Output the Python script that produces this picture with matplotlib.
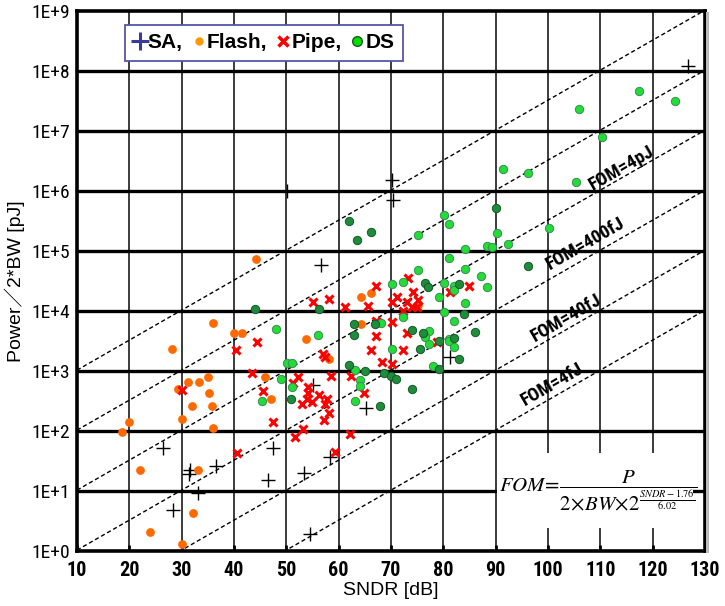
import numpy as np
import matplotlib.pyplot as plt
from matplotlib import font_manager
from matplotlib.lines import Line2D
from matplotlib.patches import Rectangle
from matplotlib.ticker import FixedLocator, FuncFormatter, NullLocator

plt.rcParams['mathtext.fontset'] = 'stix'

# ---- data (SNDR [dB], Power/2BW [pJ]) ----
sa_pts = [(126.7, 1.2e8), (70.2, 1.5e6), (70.3, 7e5), (50.2, 1e6), (56.6, 5.9e4),
          (81.3, 1.7e3), (55.1, 590), (65.2, 240), (58.3, 37), (47.4, 52),
          (53.4, 20), (54.5, 1.9), (26.4, 52), (31.6, 22), (31.4, 19),
          (36.6, 26), (33.1, 9.3), (28.3, 4.8), (46.5, 15)]

flash_pts = [(44.2, 7.4e4), (36.0, 6.3e3), (40.0, 4.3e3), (41.5, 4.3e3), (28.1, 2.3e3),
             (31.2, 660), (29.3, 500), (33.3, 660), (35.0, 790), (35.2, 430),
             (32.0, 260), (35.8, 260), (30.1, 160), (19.9, 140), (18.6, 96),
             (36.0, 112), (45.9, 790), (47.0, 340), (22.0, 22), (33.1, 22),
             (32.2, 4.3), (23.9, 2.1), (30.1, 1.3), (53.7, 3.4e3), (58.1, 1.6e3),
             (64.3, 1.7e4), (66.2, 2e4), (64.3, 6e3), (75.1, 1.26e4)]

pipe_pts = [(44.4, 3e3), (40.4, 2.2e3), (43.4, 930), (45.5, 460), (30.1, 480),
            (47.4, 140), (40.6, 43), (73.2, 3.5e4), (67.1, 2.6e4), (74.2, 2.1e4),
            (71.1, 1.7e4), (75.1, 1.5e4), (70.2, 1.4e4), (73.0, 1.4e4), (74.0, 1.17e4),
            (75.0, 1.17e4), (72.3, 1.0e4), (65.6, 1.2e4), (61.2, 1.17e4), (58.1, 1.6e4),
            (55.1, 1.4e4), (81.3, 2.1e4), (84.9, 2.6e4), (70.2, 6.6e3), (67.1, 6.8e3),
            (67.1, 3.8e3), (73.0, 4.3e3), (78.8, 3e3), (66.2, 2.2e3), (72.3, 2.2e3),
            (68.3, 1.4e3), (70.2, 1.3e3), (57.0, 1.9e3), (57.4, 1.7e3), (52.2, 790),
            (51.3, 630), (58.5, 830), (62.3, 830), (64.8, 430), (54.1, 540),
            (54.1, 430), (53.9, 340), (53.0, 280), (54.9, 300), (56.2, 400),
            (57.8, 340), (57.4, 280), (58.1, 200), (57.2, 150), (53.2, 108),
            (51.6, 80), (62.1, 90), (59.3, 45)]

ds_light_pts = [(117.4, 4.6e7), (124.2, 3.2e7), (105.9, 2.3e7), (110.3, 7.9e6), (91.4, 2.3e6),
                (96.2, 2e6), (105.3, 1.4e6), (80.1, 4e5), (81.1, 2.8e5), (90.2, 2e5),
                (100.2, 2.4e5), (75.1, 1.85e5), (84.1, 1.07e5), (88.3, 1.2e5), (89.3, 1.17e5),
                (92.3, 1.3e5), (81.1, 7.6e4), (75.1, 4.8e4), (84.1, 5e4), (87.2, 3.8e4),
                (88.3, 2.5e4), (72.3, 3e4), (70.2, 2.8e4), (80.1, 2.9e4), (82.0, 2.6e4),
                (82.0, 2.2e4), (79.2, 1.7e4), (84.1, 1.35e4), (80.1, 9.6e3), (72.3, 7.9e3),
                (82.0, 6.8e3), (68.1, 6.3e3), (77.2, 4.6e3), (76.5, 3.7e3), (77.2, 2.8e3),
                (81.1, 3.4e3), (81.1, 3.2e3), (82.0, 2.5e3), (70.2, 2.3e3), (78.0, 1.2e3),
                (48.0, 5e3), (56.0, 4e3), (50.1, 1.35e3), (51.1, 1.35e3), (49.0, 740),
                (51.1, 540), (45.3, 316), (63.1, 1.05e3), (64.1, 710), (64.1, 560),
                (63.1, 316)]

ds_dark_pts = [(90.0, 5.2e5), (96.2, 5.6e4), (76.5, 2.9e4), (77.0, 2.5e4), (83.0, 2.8e4),
               (83.9, 8.9e3), (74.0, 4.8e3), (76.1, 4.3e3), (75.5, 2.3e3), (79.2, 3.2e3),
               (82.0, 3.5e3), (86.0, 4.5e3), (83.0, 1.6e3), (79.2, 1.1e3), (74.0, 500),
               (62.0, 3.2e5), (66.2, 2.1e5), (63.5, 1.5e5), (44.0, 1.07e4), (56.2, 1.07e4),
               (62.9, 6e3), (62.9, 4e3), (66.9, 6e3), (50.9, 340), (62.0, 1.26e3),
               (65.0, 1e3), (68.6, 930), (70.0, 830), (70.9, 740), (67.9, 260)]

# FOM guide lines [pJ] and their labels
fom_levels = [0.004, 0.04, 0.4, 4, 40, 400]
fom_labels = ["FOM=4pJ", "FOM=400fJ", "FOM=40fJ", "FOM=4fJ"]
fom_label_pos = [(114.1, 2.4e6), (107.2, 1.3e5), (103.6, 7.6e3), (100.9, 590)]

x_ticks = list(range(10, 131, 10))
y_ticks = [10.0 ** k for k in range(0, 10)]

# pick a narrow face if one is installed
installed = {f.name for f in font_manager.fontManager.ttflist}
narrow_name = next((n for n in ['Liberation Sans Narrow', 'Roboto Condensed',
                                'Open Sans Condensed', 'Noto Sans Condensed']
                    if n in installed), 'DejaVu Sans')
narrow = [narrow_name, 'DejaVu Sans']
is_narrow = narrow_name != 'DejaVu Sans'

fig = plt.figure(figsize=(7.25, 6.06), dpi=100)
ax = fig.add_axes([0.1062, 0.0908, 0.8662, 0.891])
ax.set_yscale('log')
ax.set_xlim(10, 130)
ax.set_ylim(1, 1e9)

# grid
for xv in x_ticks[1:-1]:
    ax.axvline(xv, color='#1a1a1a', lw=1.2, zorder=1)
for yv in y_ticks[1:-1]:
    ax.axhline(yv, color='black', lw=2.4, zorder=1)

# FOM lines
s = np.linspace(10, 130, 300)
for f in fom_levels:
    ax.plot(s, f * 2 ** ((s - 1.76) / 6.02), color='black', lw=1.0,
            dashes=(3, 2), zorder=2)
for lab, (xp, yp) in zip(fom_labels, fom_label_pos):
    ax.text(xp, yp, lab, rotation=30, ha='center', va='center', rotation_mode='anchor',
            fontsize=13.5 if is_narrow else 11, fontweight='bold', family=narrow,
            fontstretch='condensed', zorder=3)

def unpack(pts):
    a = np.array(pts)
    return a[:, 0], a[:, 1]

x, y = unpack(sa_pts)
ax.plot(x, y, ls='none', marker='+', ms=10, mew=1.0, color='black', zorder=5)
x, y = unpack(flash_pts)
ax.plot(x, y, ls='none', marker='o', ms=6.3, mew=0, color='#ff6a00', zorder=5)
x, y = unpack(pipe_pts)
ax.plot(x, y, ls='none', marker='x', ms=5.5, mew=2.2, color='#ff0000', zorder=5)
x, y = unpack(ds_light_pts)
ax.plot(x, y, ls='none', marker='o', ms=6, mew=0.7, mfc='#22dd33', mec='#3c8a5a', zorder=5)
x, y = unpack(ds_dark_pts)
ax.plot(x, y, ls='none', marker='o', ms=6, mew=0.7, mfc='#1e8c3a', mec='#145a28', zorder=5)

# formula box
ax.add_patch(Rectangle((0.669, 0.043), 0.312, 0.138, transform=ax.transAxes,
                       facecolor='white', edgecolor='none', zorder=4))
ax.text(0.83, 0.112, r'$FOM\!=\!\dfrac{P}{2\!\times\! BW\!\times\! 2^{\frac{SNDR-1.76}{6.02}}}$',
        transform=ax.transAxes, ha='center', va='center', fontsize=15, zorder=6)

# legend
handles = [Line2D([], [], ls='none', marker='+', ms=13, mew=2.2, color='#3a3a9a'),
           Line2D([], [], ls='none', marker='o', ms=6, mew=0, color='#ff9900'),
           Line2D([], [], ls='none', marker='x', ms=6.5, mew=2.5, color='#ff0000'),
           Line2D([], [], ls='none', marker='o', ms=7, mew=1, mfc='#00dd00', mec='#225522')]
leg = ax.legend(handles, ['SA,', 'Flash,', 'Pipe,', 'DS'], ncol=4, loc='upper left',
                bbox_to_anchor=(0.0764, 0.974), borderaxespad=0, handlelength=0.6,
                handletextpad=0.1, columnspacing=0.45, fancybox=False, framealpha=1,
                borderpad=0.4,
                prop={'family': ['Liberation Sans', 'DejaVu Sans'], 'weight': 'bold', 'size': 15})
leg.get_frame().set_edgecolor('#5555aa')
leg.get_frame().set_linewidth(1.3)
leg.set_zorder(7)

# axes styling
for sp in ax.spines.values():
    sp.set_linewidth(2.6)
ax.xaxis.set_major_locator(FixedLocator(x_ticks))
ax.yaxis.set_major_locator(FixedLocator(y_ticks))
ax.yaxis.set_minor_locator(NullLocator())
ax.yaxis.set_major_formatter(FuncFormatter(lambda v, p: "1E+%d" % int(round(np.log10(v)))))
ax.tick_params(axis='x', direction='in', length=4, width=2, pad=7)
ax.tick_params(axis='y', direction='in', length=0, pad=5)
for t in ax.get_xticklabels():
    t.set_fontfamily(narrow)
    t.set_fontstretch('condensed')
    t.set_fontweight('bold')
    t.set_fontsize(14.5 if is_narrow else 12)
for t in ax.get_yticklabels():
    t.set_fontfamily(narrow)
    t.set_fontstretch('condensed')
    t.set_fontsize(14 if is_narrow else 11.5)

ax.set_xlabel('SNDR [dB]', fontsize=14, family=['Liberation Sans', 'DejaVu Sans'])
ax.xaxis.set_label_coords(0.5, -0.058)
ax.set_ylabel('Power／2*BW [pJ]', fontsize=14,
              family=['Liberation Sans', 'Noto Sans CJK JP', 'DejaVu Sans'])
ax.yaxis.set_label_coords(-0.082, 0.5)

# right-hand shadow of the frame
fig.patches.append(Rectangle((0.9735, 0.088), 0.004, 0.893, transform=fig.transFigure,
                             facecolor='#bbbbbb', edgecolor='none'))

fig.savefig('out.png', dpi=100)
